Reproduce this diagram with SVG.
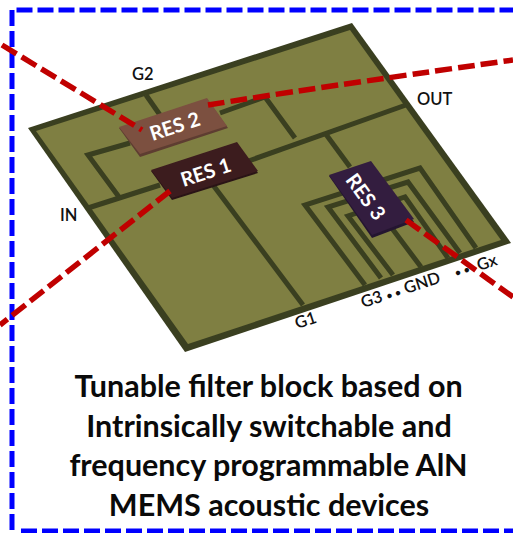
<svg xmlns="http://www.w3.org/2000/svg" width="513" height="533" viewBox="0 0 513 533">
<style>
text{font-family:Lato,"Open Sans","Liberation Sans",sans-serif;font-weight:700}
.t{font-size:30.500px;fill:#0a0a0a;text-anchor:middle}
.l{font-size:16.500px;fill:#111;font-weight:600}
.s{font-size:11px}
.r{font-size:20px;fill:#fff;text-anchor:middle}
.w{fill:none;stroke:#3a3f20;stroke-width:5;stroke-linejoin:miter}
.d{fill:none;stroke:#c00000;stroke-width:5.500;stroke-dasharray:17 6}
.b{fill:none;stroke:#0000ff;stroke-width:5;stroke-dasharray:16 5}
</style>
<g id="frame"><path class="b" d="M12 10V531"/><path class="b" d="M16.500 10H513"/><path class="b" d="M21 531H513"/></g>
<g id="plate">
<polygon points="28,128 352,23 511,243 185,352" fill="#3a3f20"/>
<polygon points="36,131 350,30 501,240 188,344" fill="#7f7f42"/>
</g>
<g id="traces">
<path class="w" d="M146 95L160 115"/>
<path class="w" d="M130 143L88 155L119 197"/>
<path class="w" d="M88 208L160 185"/>
<path class="w" d="M220 113L265 97L295 138"/>
<path class="w" d="M240 164L406 105"/>
<path class="w" d="M325 133L350 167"/>
<path class="w" d="M213 185L303 305"/>
<path class="w" d="M365 285L305 205L420 168L476 248"/>
<path class="w" d="M381 278L328 207L408 182L460 253"/>
<path class="w" d="M393 275L348 216L405 197L448 258"/>
<path class="w" d="M391 227L421 267"/>
</g>
<g id="res2"><polygon points="119,128 140,157 228,128 207,99" fill="#5e3d31"/><polygon points="119,127 207,98 227,126 140,154" fill="#7c5040"/><text class="r" transform="translate(177,133) rotate(-18)">RES 2</text></g>
<g id="res1"><polygon points="151,171 172,200 258,173 237,143" fill="#2a1416"/><polygon points="151,170 237,142 258,171 172,198" fill="#3c1c1e"/><text class="r" transform="translate(208,179) rotate(-18)">RES 1</text></g>
<g id="res3"><polygon points="329,176 372,238 414,222 371,162" fill="#241530"/><polygon points="329,175 371,161 414,219 372,235" fill="#331d3f"/><text class="r" transform="translate(360,201) rotate(54)">RES 3</text></g>
<g id="connectors">
<path class="d" d="M2 45L142 130"/>
<path class="d" d="M208 105Q300 90 513 60"/>
<path class="d" d="M170 191L0 325"/>
<path class="d" d="M406 220L513 297"/>
</g>
<g id="labels">
<text class="l" x="132" y="80">G2</text>
<text class="l" x="417" y="105">OUT</text>
<text class="l" x="60" y="221">IN</text>
<text class="l" transform="translate(297,329) rotate(-18)">G1</text>
<text class="l" transform="translate(363,308) rotate(-18)">G3 <tspan class="s">• •</tspan> GND</text>
<text class="l" transform="translate(456,277) rotate(-18)"><tspan class="s">• •</tspan></text>
<text class="l" transform="translate(479,271) rotate(-18)">Gx</text>
</g>
<g id="caption">
<text class="t" x="268.500" y="397">Tunable filter block based on</text>
<text class="t" x="269" y="437">Intrinsically switchable and</text>
<text class="t" x="268.500" y="476">frequency programmable AlN</text>
<text class="t" x="269" y="516">MEMS acoustic devices</text>
</g>
</svg>
